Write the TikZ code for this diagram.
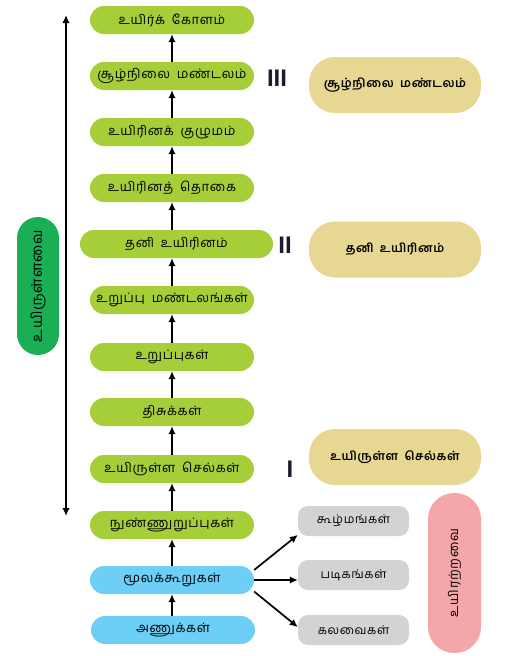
\documentclass[tikz,border=0pt]{standalone}
\usepackage{fontspec}
\setsansfont{Liberation Sans}
\newfontfamily\tamil[Script=Tamil,LetterSpace=5,WordSpace=1.8]{Hind Madurai}
\usepackage{tikz}
\usetikzlibrary{arrows.meta}
\usetikzlibrary{positioning}
\definecolor{leafgreen}{HTML}{A6CE39}
\definecolor{skyblue}{HTML}{6DCFF6}
\definecolor{stonegray}{HTML}{D1D3D4}
\definecolor{sandtan}{HTML}{E6D792}
\definecolor{rosepink}{HTML}{F5A6A8}
\definecolor{darkgreen}{HTML}{1AAF54}
\definecolor{numeralblue}{HTML}{1C1C30}

\begin{document}
\begin{tikzpicture}[
x=1pt,y=-1pt,
Level/.style={fill=leafgreen,rounded corners=14pt,minimum width=164pt,minimum height=28pt,inner sep=0pt,font=\tamil\fontsize{13}{15}\selectfont},
Matter/.style={Level,fill=skyblue},
Sample/.style={fill=stonegray,rounded corners=10pt,minimum width=111pt,minimum height=30pt,inner sep=0pt,font=\tamil\fontsize{12}{14}\selectfont},
Scale/.style={fill=sandtan,rounded corners=26pt,minimum width=172pt,minimum height=56pt,inner sep=0pt,font=\tamil\bfseries\fontsize{12}{14}\selectfont},
Group/.style={rotate=90,rounded corners=21pt,minimum height=42pt,inner sep=0pt,font=\tamil\fontsize{13}{15}\selectfont},
Numeral/.style={text=numeralblue,font=\sffamily\bfseries\fontsize{24}{24}\selectfont,inner sep=0pt},
UpArrow/.style={line width=1.7pt,-{Latex[length=8pt,width=7.5pt]}}
]
\useasboundingbox (0,0) rectangle (506,656);

% levels of organisation, bottom to top
\node[Level] (biosphere) at (172,20) {உயிர்க் கோளம்};
\node[Level] (ecosystem) at (172,76) {சூழ்நிலை மண்டலம்};
\node[Level] (community) at (172,132) {உயிரினக் குழுமம்};
\node[Level] (population) at (172,188) {உயிரினத் தொகை};
\node[Level,minimum width=193pt] (organism) at (176.5,244) {தனி உயிரினம்};
\node[Level] (organsystem) at (172,300) {உறுப்பு மண்டலங்கள்};
\node[Level] (organs) at (172,357) {உறுப்புகள்};
\node[Level] (tissues) at (172,412) {திசுக்கள்};
\node[Level] (cells) at (172,469) {உயிருள்ள செல்கள்};
\node[Level] (organelles) at (172,525) {நுண்ணுறுப்புகள்};
\node[Matter] (molecules) at (172,580) {மூலக்கூறுகள்};
\node[Matter] (atoms) at (173,630) {அணுக்கள்};

\foreach \a/\b in {atoms/molecules,molecules/organelles,organelles/cells,cells/tissues,
  tissues/organs,organs/organsystem,organsystem/organism,organism/population,
  population/community,community/ecosystem,ecosystem/biosphere}
  \draw[UpArrow] (\a.north -| biosphere.center) -- (\b.south -| biosphere.center);

% non living matter
\node[Sample] (colloids) at (353.5,521) {கூழ்மங்கள்};
\node[Sample] (crystals) at (353.5,575) {படிகங்கள்};
\node[Sample] (mixtures) at (353.5,630) {கலவைகள்};

\draw[UpArrow] (molecules.7) -- (colloids.194);
\draw[UpArrow] (molecules.east) -- (crystals.west |- molecules.east);
\draw[UpArrow] (molecules.-8) -- (mixtures.177);

% scales
\node[Numeral] (threelabel) at (277,78) {III};
\node[Numeral] (twolabel) at (285,245) {II};
\node[Numeral] (onelabel) at (290,469) {I};

\node[Scale] (scaleIII) at (395,85) {சூழ்நிலை மண்டலம்};
\node[Scale] (scaleII) at (395,249.5) {தனி உயிரினம்};
\node[Scale] (scaleI) at (395,457) {உயிருள்ள செல்கள்};

% living / non living
\node[Group,fill=darkgreen,minimum width=138pt,font=\tamil\fontsize{14.5}{16}\selectfont] (living) at (38,286) {உயிருள்ளவை};
\node[Group,fill=rosepink,minimum width=160pt,minimum height=53pt,rounded corners=26pt] (nonliving) at (454.5,573) {உயிரற்றவை};

\coordinate (spantop) at (66,15);
\coordinate (spanbottom) at (66,516);
\draw[line width=1.7pt,{Latex[length=8pt,width=7.5pt]}-{Latex[length=8pt,width=7.5pt]}] (spanbottom) -- (spantop);

\end{tikzpicture}
\end{document}
